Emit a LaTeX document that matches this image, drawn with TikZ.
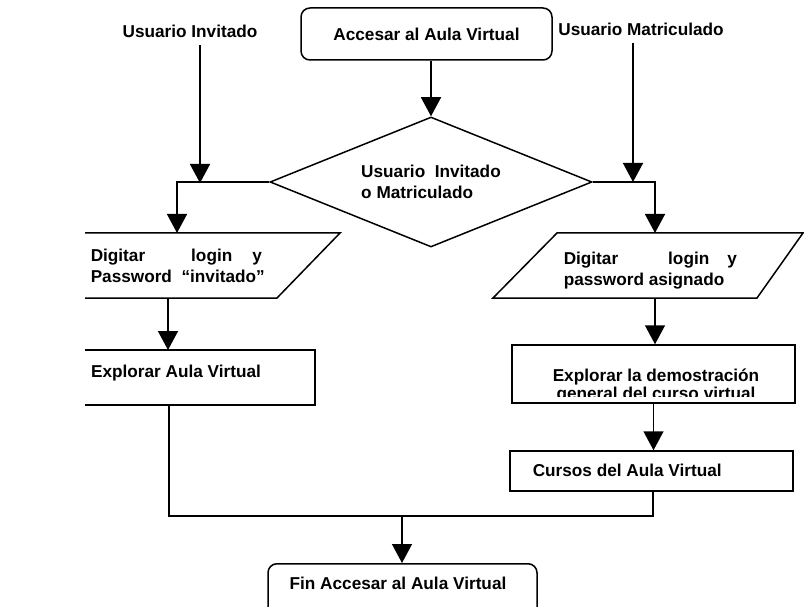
\documentclass[tikz,border=0pt]{standalone}
\usepackage{fontspec}
\setmainfont{Liberation Sans}
\usetikzlibrary{arrows.meta,shapes.geometric}
\begin{document}
\begin{tikzpicture}[x=1pt,y=-1pt,line width=1.5pt,
  lbl/.style={font=\fontsize{17.2}{21}\selectfont\bfseries,inner sep=0pt},
  flow/.style={-{Triangle[width=20pt,length=19pt]}},
  terminal/.style={draw,rounded corners=9pt},
  box/.style={draw},
]
\useasboundingbox (0,0) rectangle (804,607);
\clip (0,0) rectangle (804,607);

% start and user labels
\node[terminal,lbl,minimum width=251pt,minimum height=52pt] (start) at (426.5,34) {Accesar al Aula Virtual\hspace{5pt}};
\node[lbl,inner ysep=7pt] (inv) at (190,31) {Usuario Invitado};
\node[lbl,inner ysep=7pt] (mat) at (641,29) {Usuario Matriculado};

% decision
\node[draw,diamond,aspect=2.5,minimum width=322pt,minimum height=130pt,lbl,align=left] (dec) at (431,182) {Usuario\ \ Invitado\\o Matriculado};

\coordinate (jInv) at (200,183);
\coordinate (jMat) at (633,182);
\draw[flow] (start.south -| dec.north) -- (dec.north);
\draw[flow] (inv.south -| jInv) -- (jInv);
\draw[flow] (mat.south -| jMat) -- (jMat);

% guest branch: input
\coordinate (pl-tl) at (85,233);
\coordinate (pl-tr) at (340,233);
\coordinate (pl-br) at (277,298);
\coordinate (pl-bl) at (85,298);
\draw (pl-tl) -- (pl-tr) -- (pl-br) -- (pl-bl);
\node[lbl,align=left,anchor=base west] (pInv) at (90,283) {Digitar\hspace{46pt}login\hspace{20pt}y\\Password\ \ “invitado”};
\coordinate (inInv) at (177,233);
\draw[flow] (dec.west) -| (inInv);

% guest branch: explore
\coordinate (bl-tl) at (85,350);
\coordinate (bl-tr) at (315,350);
\coordinate (bl-br) at (315,405);
\coordinate (bl-bl) at (85,405);
\draw (bl-tl) -- (bl-tr) -- (bl-br) -- (bl-bl);
\node[lbl] (expInv) at (176,373) {Explorar Aula Virtual};
\coordinate (outInv) at (168,298);
\draw[flow] (outInv) -- (outInv |- bl-tl);

% enrolled branch: input
\coordinate (pr-tl) at (557,233);
\coordinate (pr-tr) at (803,233);
\coordinate (pr-br) at (757,298);
\coordinate (pr-bl) at (493,298);
\draw (pr-tl) -- (pr-tr) -- (pr-br) -- (pr-bl) -- cycle;
\node[lbl,align=left,anchor=base west] (pMat) at (563,285) {Digitar\hspace{50pt}login\hspace{18pt}y\\password asignado};
\coordinate (inMat) at (655,233);
\draw[flow] (dec.east) -| (inMat);

% enrolled branch: demo and courses
\node[box,minimum width=283pt,minimum height=58pt] (expMat) at (653.5,374) {};
\begin{scope}
  \clip (512,340) rectangle (795,396);
  \node[lbl,align=center,anchor=base] (expMatTxt) at (656,399) {Explorar la demostración\\[-3pt]general del curso virtual};
\end{scope}
\coordinate (outMat) at (655,298);
\draw[flow] (outMat) -- (outMat |- expMat.north);
\node[box,minimum width=283pt,minimum height=40pt] (cur) at (651.5,471) {};
\node[lbl,anchor=west] (curTxt) at (532,470) {Cursos del Aula Virtual};
\draw[flow] (expMat.south) -- (expMat.south |- cur.north);

% merge and end
\coordinate (mL) at (169,516);
\coordinate (mR) at (653,516);
\coordinate (mC) at (402,516);
\draw (mL |- bl-bl) -- (mL) -- (mR) -- (mR |- cur.south);
\node[terminal,minimum width=269pt,minimum height=60pt,anchor=north] (end) at (402.5,563) {};
\node[lbl] (endTxt) at (398,583) {Fin Accesar al Aula Virtual};
\draw[flow] (mC) -- (mC |- end.north);
\end{tikzpicture}
\end{document}
